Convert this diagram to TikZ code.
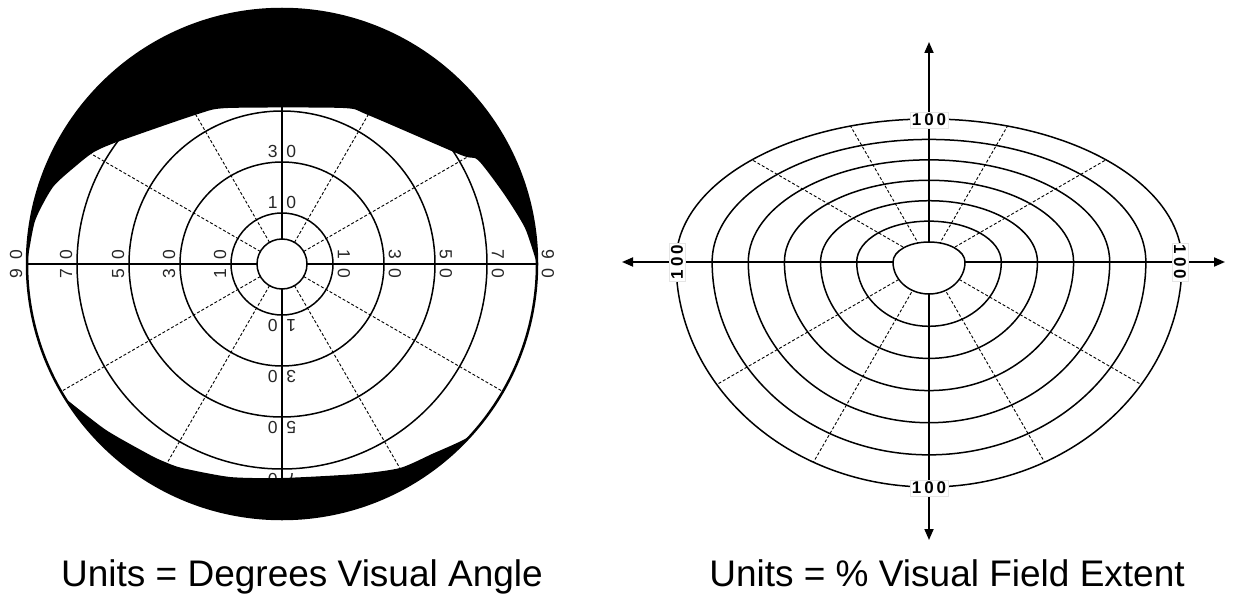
\documentclass[tikz,border=0pt]{standalone}
\usepackage{fontspec}
\setmainfont{Liberation Sans}
\usetikzlibrary{arrows.meta}

\begin{document}
\begin{tikzpicture}[x=1pt,y=1pt,
  ring/.style={line width=1.5pt},
  ray/.style={line width=0.9pt,dash pattern=on 3pt off 2pt},
  axis/.style={line width=1.8pt},
  tips/.style={{Triangle[length=11pt,width=9pt]}-{Triangle[length=11pt,width=9pt]}},
  deg/.style={font=\fontsize{17.5}{17.5}\selectfont,text=black!85,inner sep=0pt},
  pct/.style={font=\fontsize{17}{17}\selectfont\bfseries,fill=white,
              draw=black!10,line width=0.4pt,inner sep=2pt},
  caption/.style={font=\fontsize{37}{37}\selectfont,anchor=base}]
\useasboundingbox (0,0) rectangle (1233,-596);

% left chart, degrees of visual angle
\begin{scope}[shift={(282,-264)}]
\coordinate (lc) at (0,0);
\foreach \r in {25,51,102,153,205}
  \draw[ring] (lc) circle[radius=\r];
\foreach \a in {30,60,120,150,210,240,300,330}
  \draw[ray] (\a:25) -- (\a:255);
\foreach \a in {0,90,180,270}
  \draw[axis] (\a:25) -- (\a:255);
% ring labels
\foreach \d/\r in {1/62,3/113,5/164,7/216,9/266} {
  \node[deg,rotate=90] at (180:\r) {\d\hspace{9pt}0};
  \node[deg,rotate=-90] at (0:\r) {\d\hspace{9pt}0};
}
\foreach \d/\r in {1/62,3/113}
  \node[deg] at (90:\r) {\d\hspace{9pt}0};
\foreach \d/\r in {1/62,3/113,5/164,7/216}
  \node[deg,rotate=180] at (270:\r) {\d\hspace{9pt}0};
% lid shadows
\fill (0:255) arc[start angle=0,end angle=180,radius=255]
  -- plot[smooth,tension=0.4] coordinates {(-255,0) (-247,43) (-229,77)
     (-205,99) (-188,112) (-165,122) (-84,150) (-54,156) (61,156) (86,149)
     (179,109) (196,104) (222,70) (243,36) (255,0)} -- cycle;
\fill (212:255) arc[start angle=212,end angle=325,radius=255]
  -- plot[smooth,tension=0.4] coordinates {(209,-146) (188,-172) (150,-190)
     (118,-204) (75,-210) (0,-214) (-52,-213) (-100,-204) (-117,-198)
     (-132,-191) (-176,-166) (-216,-135)} -- cycle;
\draw[line width=2.5pt] (lc) circle[radius=255];
\end{scope}

% right chart, percent of visual field extent
\begin{scope}[shift={(929,-262)}]
\coordinate (rc) at (0,0);
\foreach \k in {2,...,7}
  \draw[ring] ({253*\k/7},0)
    arc[start angle=0,end angle=180,x radius={253*\k/7},y radius={143*\k/7}]
    arc[start angle=180,end angle=360,x radius={253*\k/7},y radius={225*\k/7}]
    -- cycle;
\begin{scope}
\clip (253,0) arc[start angle=0,end angle=180,x radius=253,y radius=143]
  arc[start angle=180,end angle=360,x radius=253,y radius=225] -- cycle;
\foreach \a in {30,60,120,150,210,240,300,330}
  \draw[ray] (rc) -- (\a:300);
\end{scope}
\coordinate (pn) at (0,220);
\coordinate (ps) at (0,-278);
\coordinate (pw) at (-307,0);
\coordinate (pe) at (296,0);
\draw[axis,tips] (pw) -- (pe);
\draw[axis,tips] (pn) -- (ps);
\filldraw[ring,fill=white] (36,0)
  arc[start angle=0,end angle=180,x radius=36,y radius=20]
  arc[start angle=180,end angle=360,x radius=36,y radius=32] -- cycle;
\node[pct] (ln) at (0,142) {1\kern3pt0\kern3pt0};
\node[pct] (ls) at (0,-226) {1\kern3pt0\kern3pt0};
\node[pct,rotate=90] (lw) at (-252,0) {1\kern3pt0\kern3pt0};
\node[pct,rotate=-90] (le) at (251,0) {1\kern3pt0\kern3pt0};
\end{scope}

\node[caption] (capl) at (302,-586) {Units = Degrees Visual Angle};
\node[caption] (capr) at (947,-586) {Units = \% Visual Field Extent};
\end{tikzpicture}
\end{document}
